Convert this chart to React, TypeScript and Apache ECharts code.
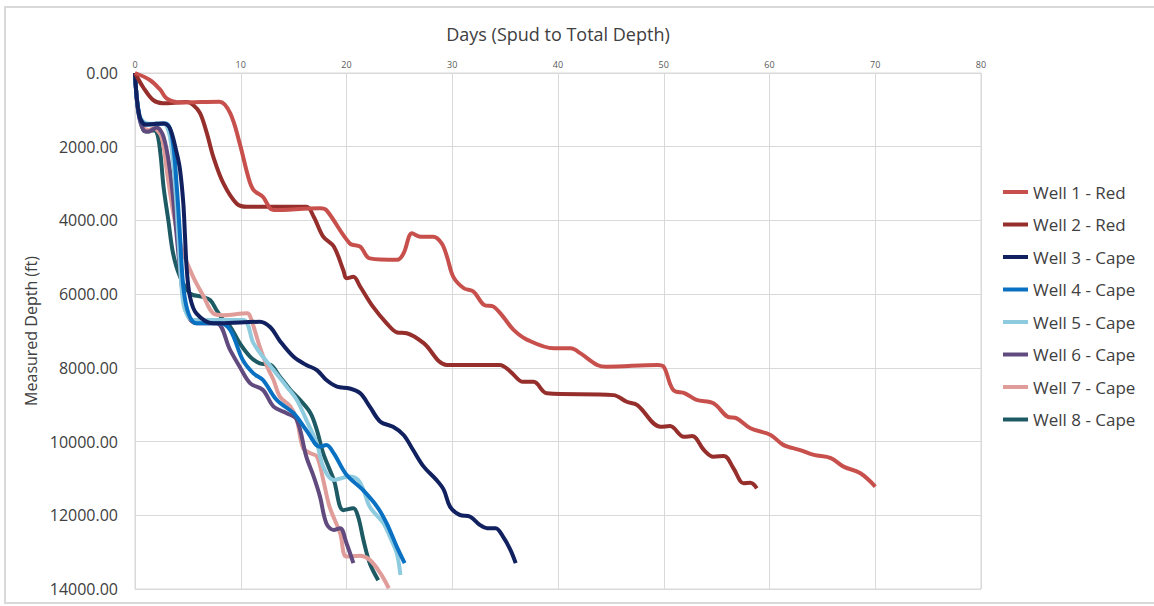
import React, { useEffect, useRef } from "react";
import * as echarts from "echarts";

const wellNames = [
  "Well 1 - Red",
  "Well 2 - Red",
  "Well 3 - Cape",
  "Well 4 - Cape",
  "Well 5 - Cape",
  "Well 6 - Cape",
  "Well 7 - Cape",
  "Well 8 - Cape",
];

const wellColors = ["#C8504C", "#962F2C", "#112160", "#0A70C2", "#8FCBDF", "#614A7E", "#E09C99", "#1E5A64"];

const xTicks = [0, 10, 20, 30, 40, 50, 60, 70, 80];
const yTicks = [0, 2000, 4000, 6000, 8000, 10000, 12000, 14000];

const well1Days = [0, 1.4, 2.4, 3.0, 4.3, 8.0, 9.0, 9.9, 10.7, 11.2, 12.1, 13.1, 17.5, 18.1, 20.3, 21.3, 22.2, 24.8, 25.4, 26.2, 27.0, 28.2, 29.0, 29.5, 30.1, 31.1, 32.0, 33.0, 33.9, 34.8, 35.8, 37.1, 39.6, 41.2, 42.1, 43.7, 44.6, 49.4, 50.0, 50.9, 52.0, 53.1, 54.7, 56.0, 56.9, 58.2, 60.1, 61.3, 62.9, 64.2, 65.8, 67.0, 68.6, 70.0];
const well1Depth = [0, 190, 460, 690, 800, 780, 1090, 1910, 2810, 3170, 3360, 3720, 3670, 3720, 4620, 4710, 5030, 5070, 4890, 4350, 4440, 4440, 4620, 4980, 5530, 5840, 5930, 6290, 6340, 6610, 6970, 7240, 7470, 7470, 7600, 7920, 7970, 7920, 7970, 8600, 8690, 8870, 8960, 9320, 9370, 9640, 9820, 10090, 10230, 10360, 10450, 10680, 10860, 11220];

const well2Days = [0, 0.8, 1.7, 2.6, 4.9, 5.5, 6.15, 6.8, 7.4, 8.35, 9.6, 10.6, 16.2, 16.9, 17.8, 18.8, 19.7, 20.0, 20.65, 21.3, 22.5, 23.8, 24.8, 25.7, 27.3, 29.5, 34.5, 35.5, 36.7, 37.7, 38.95, 45.25, 46.5, 47.5, 49.7, 50.6, 51.9, 52.7, 53.8, 54.7, 55.7, 56.6, 57.55, 58.2, 58.8];
const well2Depth = [0, 400, 730, 820, 790, 870, 1090, 1640, 2270, 2990, 3540, 3630, 3630, 3900, 4440, 4710, 5350, 5570, 5530, 5800, 6340, 6790, 7040, 7060, 7330, 7920, 7920, 8100, 8380, 8380, 8690, 8740, 8920, 9010, 9600, 9580, 9870, 9850, 10230, 10410, 10390, 10730, 11130, 11120, 11270];

const well3Days = [0, 0.4, 1.0, 2.0, 2.7, 3.3, 3.95, 4.26, 4.57, 4.73, 4.9, 5.2, 5.8, 7.4, 8.0, 11.8, 12.8, 13.7, 15.0, 16.2, 17.2, 18.1, 19.1, 20.3, 21.3, 22.2, 23.2, 24.4, 25.4, 26.3, 27.3, 28.5, 29.2, 29.8, 30.7, 31.7, 32.6, 33.3, 34.1, 34.8, 35.5, 36.0];
const well3Depth = [0, 1150, 1400, 1380, 1370, 1500, 2180, 2630, 3540, 4440, 5350, 6070, 6520, 6790, 6790, 6750, 6900, 7270, 7700, 7920, 8060, 8330, 8510, 8560, 8690, 9050, 9460, 9600, 9820, 10230, 10680, 11040, 11310, 11770, 11990, 12040, 12260, 12350, 12350, 12580, 12940, 13300];

const well4Days = [0, 0.4, 1.0, 2.0, 2.9, 3.5, 3.95, 4.26, 4.57, 5.05, 5.8, 8.0, 9.0, 10.2, 11.2, 12.1, 13.4, 15.0, 16.2, 17.5, 18.1, 18.8, 20.0, 21.5, 22.9, 23.8, 24.75, 25.5];
const well4Depth = [0, 1150, 1400, 1380, 1370, 1730, 3090, 4440, 5800, 6520, 6790, 6790, 6970, 7790, 8150, 8330, 8870, 9230, 9690, 10140, 10090, 10320, 10900, 11300, 11770, 12220, 12850, 13300];

const well5Days = [0, 0.4, 1.0, 2.0, 2.7, 3.3, 3.8, 4.1, 4.4, 4.73, 5.5, 10.2, 11.2, 12.1, 13.1, 14.35, 15.3, 16.2, 17.2, 17.8, 18.8, 20.3, 21.1, 21.6, 22.2, 23.5, 24.1, 24.75, 25.1];
const well5Depth = [0, 1100, 1350, 1380, 1370, 1730, 3090, 4440, 5800, 6430, 6700, 6700, 7330, 7700, 8060, 8510, 8870, 9410, 10050, 10680, 11040, 10950, 11040, 11310, 11770, 12220, 12580, 13030, 13620];

const well6Days = [0, 0.3, 0.8, 1.26, 1.58, 2.05, 2.7, 3.3, 3.8, 4.26, 4.57, 5.05, 5.8, 7.7, 9.0, 9.9, 10.9, 12.1, 13.1, 14.35, 15.3, 16.2, 16.9, 17.5, 18.1, 18.8, 19.4, 20.0, 20.65];
const well6Depth = [0, 1050, 1550, 1590, 1550, 1480, 1730, 2630, 3990, 5350, 6070, 6610, 6790, 6790, 7520, 7970, 8420, 8600, 9050, 9230, 9410, 10410, 10950, 11500, 12220, 12400, 12350, 12760, 13300];

const well7Days = [0, 0.3, 0.8, 1.3, 1.73, 2.5, 3.0, 3.47, 3.95, 4.57, 5.5, 6.5, 7.4, 8.35, 10.6, 10.9, 11.8, 12.5, 13.1, 13.7, 14.7, 15.3, 15.9, 16.6, 17.2, 17.8, 18.4, 19.4, 20.0, 21.3, 22.2, 23.2, 24.0];
const well7Depth = [0, 1000, 1450, 1550, 1500, 1730, 2630, 3540, 4260, 4890, 5530, 6070, 6520, 6570, 6520, 6610, 7430, 7970, 8330, 8780, 9050, 9410, 10180, 10320, 10400, 11040, 11770, 12490, 13120, 13100, 13210, 13570, 13980];

const well8Days = [0, 0.3, 0.8, 1.26, 1.58, 2.05, 2.4, 2.7, 3.15, 3.6, 4.26, 5.2, 6.3, 7.1, 7.7, 8.35, 9.0, 9.9, 10.9, 11.8, 12.8, 13.7, 14.7, 15.6, 16.6, 17.2, 17.8, 18.8, 19.7, 20.65, 21.1, 21.6, 22.2, 23.0];
const well8Depth = [0, 1000, 1550, 1590, 1550, 1600, 2180, 3090, 3990, 4890, 5530, 5980, 6070, 6160, 6430, 6700, 6880, 7330, 7700, 7880, 7920, 8240, 8600, 8870, 9230, 9690, 10320, 11040, 11860, 11810, 12040, 12670, 13300, 13760];

const wellDays = [well1Days, well2Days, well3Days, well4Days, well5Days, well6Days, well7Days, well8Days];
const wellDepths = [well1Depth, well2Depth, well3Depth, well4Depth, well5Depth, well6Depth, well7Depth, well8Depth];

const FONT = "'Open Sans', Lato, sans-serif";

export default function App() {
  const ref = useRef<HTMLDivElement>(null);

  useEffect(() => {
    if (!ref.current) return;
    const chart = echarts.init(ref.current, undefined, { renderer: "svg" });
    const series = wellNames.map((name, i) => ({
      name,
      type: "line",
      data: wellDays[i].map((d, j) => [d, wellDepths[i][j]]),
      showSymbol: false,
      smooth: 0.35,
      lineStyle: { width: 4, color: wellColors[i] },
      itemStyle: { color: wellColors[i] },
      z: 10 - i,
    }));
    chart.setOption({
      animation: false,
      backgroundColor: "#ffffff",
      textStyle: { fontFamily: FONT },
      graphic: [
        {
          type: "rect",
          shape: { x: 5, y: 7, width: 1160, height: 596 },
          style: { fill: "none", stroke: "#D9D9D9", lineWidth: 2 },
          silent: true,
        },
      ],
      grid: {
        left: 135,
        top: 73,
        right: 173,
        bottom: 17,
        show: true,
        borderColor: "#D9D9D9",
        borderWidth: 1,
      },
      legend: {
        orient: "vertical",
        left: 998,
        top: 177,
        icon: "rect",
        itemWidth: 25,
        itemHeight: 4,
        itemGap: 12.5,
        textStyle: { fontSize: 17, color: "#404040", fontFamily: FONT, lineHeight: 20 },
        data: wellNames,
      },
      xAxis: {
        type: "value",
        position: "top",
        min: xTicks[0],
        max: xTicks[xTicks.length - 1],
        interval: 10,
        name: "Days (Spud to Total Depth)",
        nameLocation: "middle",
        nameGap: 30,
        nameTextStyle: { fontSize: 18, color: "#404040", fontFamily: FONT },
        axisLine: { show: false },
        axisTick: { show: false },
        axisLabel: { fontSize: 9, color: "#595959", margin: 4, fontFamily: FONT },
        splitLine: { show: true, lineStyle: { color: "#D9D9D9", width: 1 } },
      },
      yAxis: {
        type: "value",
        inverse: true,
        min: yTicks[0],
        max: yTicks[yTicks.length - 1],
        interval: 2000,
        name: "Measured Depth (ft)",
        nameLocation: "middle",
        nameGap: 96,
        nameRotate: 90,
        nameTextStyle: { fontSize: 16, color: "#404040", fontFamily: FONT },
        axisLine: { show: false },
        axisTick: { show: false },
        axisLabel: {
          fontSize: 16,
          color: "#404040",
          margin: 17,
          fontFamily: FONT,
          formatter: (v: number) => v.toFixed(2),
        },
        splitLine: { show: true, lineStyle: { color: "#D9D9D9", width: 1 } },
      },
      series,
    });
    return () => chart.dispose();
  }, []);

  return (
    <div
      ref={ref}
      style={{ position: "fixed", left: 0, top: 0, width: 1154, height: 606, background: "#fff" }}
    />
  );
}
